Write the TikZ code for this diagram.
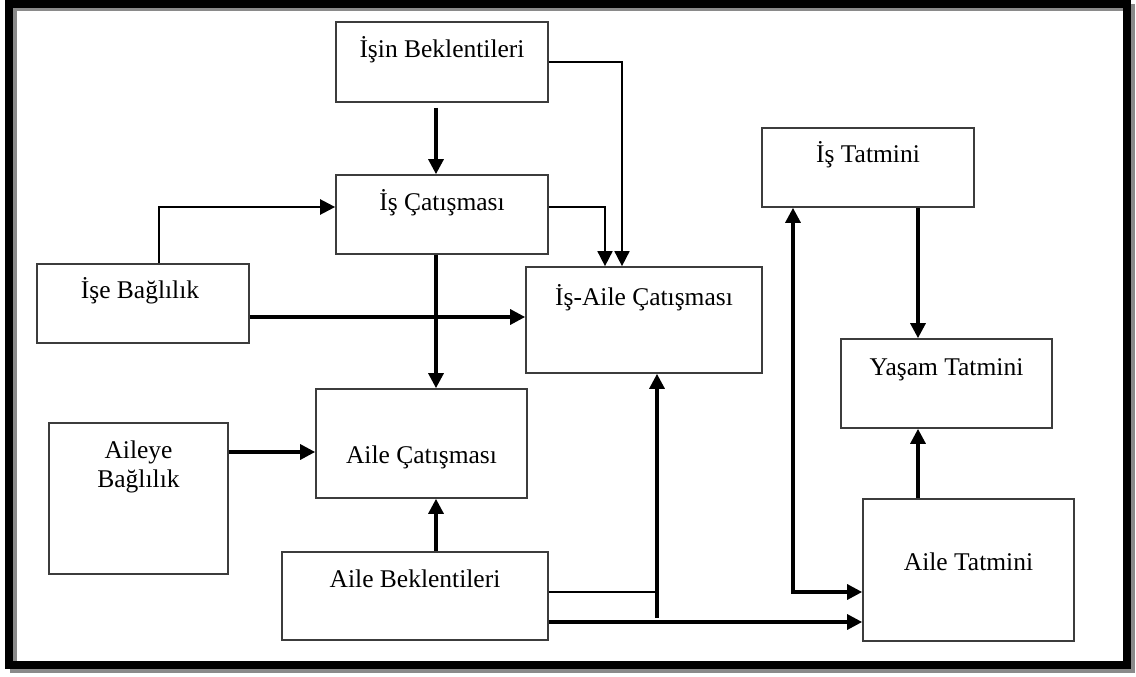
\documentclass[tikz,border=0pt]{standalone}
\usepackage{fontspec}
\setmainfont{Liberation Serif}
\usetikzlibrary{arrows.meta}
\definecolor{boxgray}{HTML}{3C3C3C}
\definecolor{shadowgray}{HTML}{8A8A8A}
\begin{document}
\begin{tikzpicture}[x=1pt,y=-1pt,
  box/.style={draw=boxgray, line width=1.7pt, inner sep=0pt},
  lbl/.style={anchor=base, inner sep=0pt, font=\fontsize{25.5}{29}\selectfont},
  arr/.style={-{Triangle[length=15pt,width=15pt]}},
  arrboth/.style={{Triangle[length=15pt,width=15pt]}-{Triangle[length=15pt,width=15pt]}},
  heavy/.style={line width=3.2pt},
  medium/.style={line width=2.4pt},
  light/.style={line width=1.7pt}]
\useasboundingbox (0,0) rectangle (1136,677);

% outer frame with a soft drop shadow
\draw[shadowgray, line width=7pt] (13,8) rectangle (1131,669);
\draw[black, line width=8.5pt] (9,3.5) rectangle (1127,665);

% boxes
\node[box, minimum width=212, minimum height=80]  (ib)   at (442,62)    {};
\node[box, minimum width=212, minimum height=79]  (ic)   at (442,214.5) {};
\node[box, minimum width=236, minimum height=106] (iac)  at (644,320)   {};
\node[box, minimum width=212, minimum height=79]  (ibag) at (143,303.5) {};
\node[box, minimum width=211, minimum height=109] (ac)   at (421.5,443.5) {};
\node[box, minimum width=179, minimum height=151] (abag) at (138.5,498.5) {};
\node[box, minimum width=266, minimum height=88]  (ab)   at (415,596)   {};
\node[box, minimum width=212, minimum height=79]  (it)   at (868,167.5) {};
\node[box, minimum width=211, minimum height=89]  (yt)   at (946.5,383.5) {};
\node[box, minimum width=211, minimum height=142] (at)   at (968.5,570) {};

% labels
\node[lbl] (ib-t)    at (442,58)   {İşin Beklentileri};
\node[lbl] (ic-t)    at (442,210)  {İş Çatışması};
\node[lbl] (iac-t)   at (644,305)  {İş-Aile Çatışması};
\node[lbl] (ibag-t)  at (140,298)  {İşe Bağlılık};
\node[lbl] (ac-t)    at (421.5,463) {Aile Çatışması};
\node[lbl] (abag-t1) at (138.5,458) {Aileye};
\node[lbl] (abag-t2) at (138.5,487) {Bağlılık};
\node[lbl] (ab-t)    at (415,587)  {Aile Beklentileri};
\node[lbl] (it-t)    at (868,162)  {İş Tatmini};
\node[lbl] (yt-t)    at (946.5,375) {Yaşam Tatmini};
\node[lbl] (at-t)    at (968.5,570) {Aile Tatmini};

% routing columns and rows
\coordinate (xA) at (436,0);
\coordinate (xB) at (605,0);
\coordinate (xC) at (622,0);
\coordinate (xD) at (159,0);
\coordinate (xE) at (657,0);
\coordinate (xF) at (793,0);
\coordinate (xG) at (918,0);
\coordinate (yA) at (0,207);
\coordinate (yB) at (0,317);
\coordinate (yC) at (0,452);
\coordinate (yD) at (0,592);
\coordinate (yE) at (0,622);
\coordinate (yF) at (0,618);

% connectors
\draw[heavy, arr] (ib.south -| xA) ++(0,5) -- (ic.north -| xA);
\draw[light, arr] (ib.east) -| (iac.north -| xC);
\draw[light, arr] (ic.east |- yA) -| (iac.north -| xB);
\draw[heavy, arr] (ic.south -| xA) -- (ac.north -| xA);
\draw[medium, arr] (ibag.north -| xD) |- (ic.west |- yA);
\draw[heavy, arr] (ibag.east |- yB) -- (iac.west |- yB);
\draw[heavy, arr] (abag.east |- yC) -- (ac.west |- yC);
\draw[heavy, arr] (ab.north -| xA) -- (ac.south -| xA);
\draw[light] (ab.east |- yD) -- (xE |- yD);
\draw[heavy, arr] (xE |- yF) -- (iac.south -| xE);
\draw[heavy, arr] (ab.east |- yE) -- (at.west |- yE);
\draw[heavy, arrboth] (it.south -| xF) |- (at.west |- yD);
\draw[heavy, arr] (it.south -| xG) -- (yt.north -| xG);
\draw[heavy, arr] (at.north -| xG) -- (yt.south -| xG);
\end{tikzpicture}
\end{document}
